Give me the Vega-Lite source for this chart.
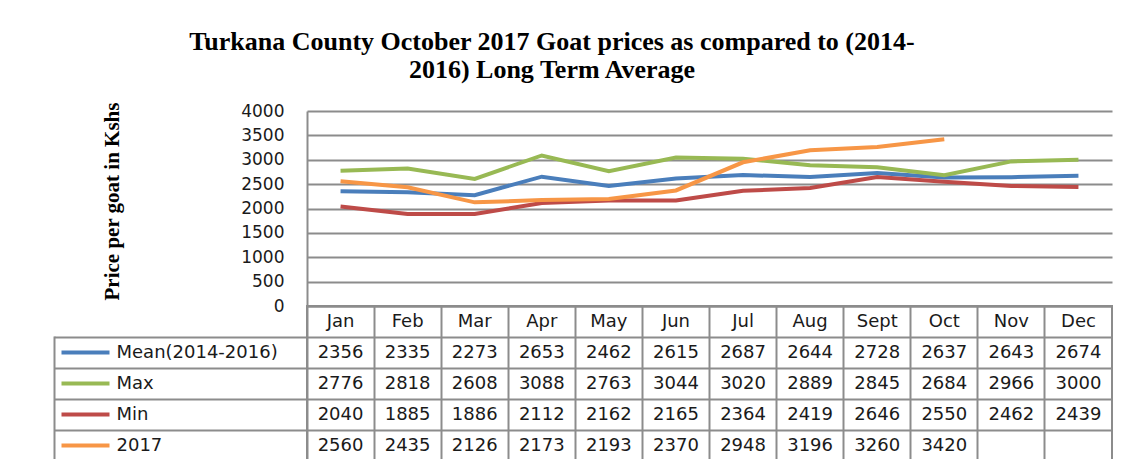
{
  "$schema": "https://vega.github.io/schema/vega-lite/v6.json",
  "background": "white",
  "padding": {"left": 51, "top": 29, "right": 10, "bottom": 0},
  "bounds": "flush",
  "title": {
    "text": ["Turkana County  October 2017 Goat prices as compared to (2014-", "2016) Long Term Average"],
    "font": "Liberation Serif",
    "fontSize": 26,
    "fontWeight": "bold",
    "color": "#000000",
    "anchor": "middle",
    "lineHeight": 28,
    "offset": 16,
    "dx": -30
  },
  "datasets": {
    "prices": [
      {"series": "Mean(2014-2016)", "month": "Jan", "value": 2356},
      {"series": "Mean(2014-2016)", "month": "Feb", "value": 2335},
      {"series": "Mean(2014-2016)", "month": "Mar", "value": 2273},
      {"series": "Mean(2014-2016)", "month": "Apr", "value": 2653},
      {"series": "Mean(2014-2016)", "month": "May", "value": 2462},
      {"series": "Mean(2014-2016)", "month": "Jun", "value": 2615},
      {"series": "Mean(2014-2016)", "month": "Jul", "value": 2687},
      {"series": "Mean(2014-2016)", "month": "Aug", "value": 2644},
      {"series": "Mean(2014-2016)", "month": "Sept", "value": 2728},
      {"series": "Mean(2014-2016)", "month": "Oct", "value": 2637},
      {"series": "Mean(2014-2016)", "month": "Nov", "value": 2643},
      {"series": "Mean(2014-2016)", "month": "Dec", "value": 2674},
      {"series": "Max", "month": "Jan", "value": 2776},
      {"series": "Max", "month": "Feb", "value": 2818},
      {"series": "Max", "month": "Mar", "value": 2608},
      {"series": "Max", "month": "Apr", "value": 3088},
      {"series": "Max", "month": "May", "value": 2763},
      {"series": "Max", "month": "Jun", "value": 3044},
      {"series": "Max", "month": "Jul", "value": 3020},
      {"series": "Max", "month": "Aug", "value": 2889},
      {"series": "Max", "month": "Sept", "value": 2845},
      {"series": "Max", "month": "Oct", "value": 2684},
      {"series": "Max", "month": "Nov", "value": 2966},
      {"series": "Max", "month": "Dec", "value": 3000},
      {"series": "Min", "month": "Jan", "value": 2040},
      {"series": "Min", "month": "Feb", "value": 1885},
      {"series": "Min", "month": "Mar", "value": 1886},
      {"series": "Min", "month": "Apr", "value": 2112},
      {"series": "Min", "month": "May", "value": 2162},
      {"series": "Min", "month": "Jun", "value": 2165},
      {"series": "Min", "month": "Jul", "value": 2364},
      {"series": "Min", "month": "Aug", "value": 2419},
      {"series": "Min", "month": "Sept", "value": 2646},
      {"series": "Min", "month": "Oct", "value": 2550},
      {"series": "Min", "month": "Nov", "value": 2462},
      {"series": "Min", "month": "Dec", "value": 2439},
      {"series": "2017", "month": "Jan", "value": 2560},
      {"series": "2017", "month": "Feb", "value": 2435},
      {"series": "2017", "month": "Mar", "value": 2126},
      {"series": "2017", "month": "Apr", "value": 2173},
      {"series": "2017", "month": "May", "value": 2193},
      {"series": "2017", "month": "Jun", "value": 2370},
      {"series": "2017", "month": "Jul", "value": 2948},
      {"series": "2017", "month": "Aug", "value": 3196},
      {"series": "2017", "month": "Sept", "value": 3260},
      {"series": "2017", "month": "Oct", "value": 3420}
    ]
  },
  "spacing": 0,
  "vconcat": [
    {
      "width": 805,
      "height": 195,
      "view": {"stroke": null},
      "data": {"name": "prices"},
      "mark": {"type": "line", "strokeWidth": 4},
      "encoding": {
        "x": {
          "field": "month", "type": "ordinal",
          "sort": ["Jan","Feb","Mar","Apr","May","Jun","Jul","Aug","Sept","Oct","Nov","Dec"],
          "scale": {"type": "band", "domain": ["Jan","Feb","Mar","Apr","May","Jun","Jul","Aug","Sept","Oct","Nov","Dec"], "paddingInner": 0, "paddingOuter": 0},
          "axis": null
        },
        "y": {
          "field": "value", "type": "quantitative",
          "scale": {"domain": [0, 4000], "nice": false},
          "axis": {
            "values": [0, 500, 1000, 1500, 2000, 2500, 3000, 3500, 4000],
            "format": "d",
            "grid": true, "gridColor": "#8c8c8c", "gridWidth": 2,
            "domain": true, "domainColor": "#8c8c8c", "domainWidth": 2,
            "ticks": false, "labelPadding": 23,
            "labelFont": "DejaVu Sans", "labelFontSize": 17, "labelColor": "#1a1a1a",
            "title": "Price per  goat in Kshs",
            "titleFont": "Liberation Serif", "titleFontSize": 21, "titleFontWeight": "bold",
            "titleColor": "#000000", "titlePadding": 118, "titleY": 90
          }
        },
        "color": {
          "field": "series", "type": "nominal",
          "scale": {"domain": ["Mean(2014-2016)", "Max", "Min", "2017"], "range": ["#4A7EBB", "#98B954", "#BE4B48", "#F79646"]},
          "legend": null
        }
      }
    },
    {
      "width": 805,
      "height": 155,
      "view": {"stroke": "#8c8c8c", "strokeWidth": 2},
      "resolve": {"axis": {"y": "independent"}},
      "layer": [
        {
          "data": {"name": "prices"},
          "mark": {"type": "text", "font": "DejaVu Sans", "fontSize": 18, "color": "#1a1a1a"},
          "encoding": {
            "x": {
              "field": "month", "type": "ordinal",
              "scale": {"type": "band", "domain": ["Jan","Feb","Mar","Apr","May","Jun","Jul","Aug","Sept","Oct","Nov","Dec"], "paddingInner": 0, "paddingOuter": 0},
              "axis": {"orient": "bottom", "bandPosition": 0, "grid": true, "gridColor": "#8c8c8c", "gridWidth": 2, "ticks": false, "labels": false, "domain": false, "title": null}
            },
            "y": {
              "field": "series", "type": "nominal",
              "scale": {"type": "band", "domain": ["Month", "Mean(2014-2016)", "Max", "Min", "2017"], "paddingInner": 0, "paddingOuter": 0},
              "axis": {
                "orient": "left", "bandPosition": 0,
                "grid": true, "gridColor": "#8c8c8c", "gridWidth": 2,
                "ticks": true, "tickSize": 253, "tickWidth": 2,
                "tickColor": {"condition": {"test": "datum.value == 'Month'", "value": "transparent"}, "value": "#8c8c8c"},
                "labels": false, "domain": false, "title": null
              }
            },
            "text": {"field": "value", "type": "quantitative", "format": "d"}
          }
        },
        {
          "data": {"name": "prices"},
          "transform": [{"filter": "datum.series == 'Max'"}],
          "mark": {"type": "text", "font": "DejaVu Sans", "fontSize": 18, "color": "#1a1a1a"},
          "encoding": {
            "x": {"field": "month", "type": "ordinal"},
            "y": {
              "datum": "Month", "type": "nominal",
              "axis": {
                "orient": "left", "bandPosition": 0.5,
                "grid": false, "domain": false,
                "ticks": true, "tickSize": 253, "tickWidth": 4,
                "tickDash": [0, 198, 48, 400],
                "tickColor": {
                  "condition": [
                    {"test": "datum.value == 'Mean(2014-2016)'", "value": "#4A7EBB"},
                    {"test": "datum.value == 'Max'", "value": "#98B954"},
                    {"test": "datum.value == 'Min'", "value": "#BE4B48"},
                    {"test": "datum.value == '2017'", "value": "#F79646"}
                  ],
                  "value": "transparent"
                },
                "labels": true, "labelAlign": "left", "labelPadding": -62,
                "labelFont": "DejaVu Sans", "labelFontSize": 18, "labelColor": "#1a1a1a",
                "labelExpr": "datum.value == 'Month' ? '' : datum.value",
                "title": null
              }
            },
            "text": {"field": "month", "type": "nominal"}
          }
        },
        {
          "data": {"name": "prices"},
          "mark": {"type": "point", "opacity": 0},
          "encoding": {
            "x": {"field": "month", "type": "ordinal"},
            "y": {
              "field": "series", "type": "nominal",
              "axis": {
                "orient": "left", "offset": 253,
                "domain": true, "domainColor": "#8c8c8c", "domainWidth": 2,
                "domainDash": [0, 30, 400],
                "ticks": false, "labels": false, "grid": false, "title": null
              }
            }
          }
        }
      ]
    }
  ]
}
